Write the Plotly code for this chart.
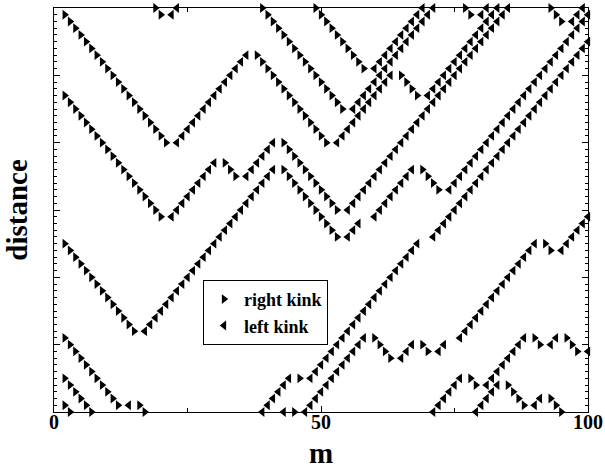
import plotly.graph_objects as go

# Each track is a list of segments: (kink type, first step m, distance at each successive step)
A = [
    ("R", 2, [59, 58, 57, 56, 55, 54, 53, 52, 51, 50, 49, 48, 47, 46, 45, 44, 43, 42, 41, 40]),
    ("L", 23, [40, 41, 42, 43, 44, 45, 46, 47, 48, 49, 50, 51, 52, 53]),
    ("R", 38, [53, 52, 51, 50, 49, 48, 47, 46, 45, 44, 43, 42, 41, 40]),
    ("L", 53, [40, 41, 42, 43, 44, 45, 46, 47, 48, 49, 50]),
    ("R", 65, [50, 49, 48, 47]),
    ("L", 70, [47, 48, 49, 50, 51, 52, 53, 54, 55, 56, 57, 58, 59, 60]),
]
D1 = [
    ("R", 39, [60, 59, 58, 57, 56, 55, 54, 53, 52, 51, 50, 49, 48, 47, 46, 45]),
    ("L", 56, [45, 46, 47, 48, 49, 50, 51, 52, 53, 54, 55, 56, 57, 58, 59, 60]),
]
D2 = [
    ("R", 49, [60, 59, 58, 57, 56, 55, 54, 53, 52, 51]),
    ("L", 60, [51, 52, 53, 54, 55, 56, 57, 58, 59, 60]),
]
T1 = [("R", 19, [60, 59]), ("L", 22, [59, 60])]
T2 = [("R", 77, [60, 59]), ("L", 80, [59, 60])]
T3 = [("R", 93, [60, 59, 58]), ("L", 97, [58, 59, 60])]
P2 = [
    ("R", 2, [47, 46, 45, 44, 43, 42, 41, 40, 39, 38, 37, 36, 35, 34, 33, 32, 31, 30, 29]),
    ("L", 22, [29, 30, 31, 32, 33, 34, 35, 36, 37]),
    ("R", 32, [37, 36, 35]),
    ("L", 36, [35, 36, 37, 38, 39, 40]),
    ("R", 43, [40, 39, 38, 37, 36, 35, 34, 33, 32, 31, 30]),
    ("L", 55, [30, 31, 32, 33, 34, 35, 36, 37, 38, 39, 40, 41, 42, 43, 44, 45, 46, 47, 48, 49,
               50, 51, 52, 53, 54, 55, 56, 57, 58, 59, 60]),
]
P3 = [
    ("R", 2, [25, 24, 23, 22, 21, 20, 19, 18, 17, 16, 15, 14, 13, 12]),
    ("L", 17, [12, 13, 14, 15, 16, 17, 18, 19, 20, 21, 22, 23, 24, 25, 26, 27, 28, 29, 30, 31,
               32, 33, 34, 35, 36]),
    ("R", 43, [36, 35, 34, 33, 32, 31, 30, 29, 28, 27, 26]),
    ("L", 55, [26, 27, 28]),
    ("L", 60, [29, 30, 31, 32, 33, 34, 35, 36]),
    ("R", 69, [36, 35, 34, 33]),
    ("L", 74, [33, 34, 35, 36, 37, 38, 39, 40, 41, 42, 43, 44, 45, 46, 47, 48, 49, 50, 51, 52,
               53, 54, 55, 56, 57, 58, 59]),
]
B1 = [("R", 2, [11, 10, 9, 8, 7, 6, 5, 4, 3, 2, 1]), ("L", 14, [1]), ("R", 16, [1, 0])]
B2 = [("R", 2, [5, 4, 3, 2, 1, 0])]
B3 = [("R", 2, [1, 0])]
E1 = [
    ("L", 39, [0, 1, 2, 3, 4, 5]),
    ("R", 46, [5]),
    ("L", 48, [5, 6, 7, 8, 9, 10, 11, 12, 13, 14, 15, 16, 17, 18, 19, 20, 21, 22, 23, 24, 25]),
    ("L", 71, [26, 27, 28, 29, 30, 31, 32, 33, 34, 35, 36, 37, 38, 39, 40, 41, 42, 43, 44, 45,
               46, 47, 48, 49, 50, 51, 52, 53, 54, 55]),
]
E2 = [
    ("L", 43, [0]),
    ("R", 45, [0]),
    ("L", 47, [0, 1, 2, 3, 4, 5, 6, 7, 8, 9, 10, 11]),
    ("R", 60, [11, 10, 9, 8]),
    ("L", 65, [8, 9, 10]),
    ("R", 69, [10, 9]),
    ("L", 72, [9, 10]),
    ("L", 76, [11, 12, 13, 14, 15, 16, 17, 18, 19, 20, 21, 22, 23, 24, 25]),
    ("R", 92, [25, 24]),
    ("L", 95, [24, 25, 26, 27, 28, 29]),
]
E3 = [
    ("L", 71, [0, 1, 2, 3, 4, 5]),
    ("R", 78, [5, 4]),
    ("L", 81, [4, 5, 6, 7, 8, 9, 10, 11]),
    ("R", 90, [11, 10]),
    ("L", 93, [10, 11]),
    ("R", 96, [11, 10, 9]),
    ("L", 100, [9]),
]
E4 = [
    ("L", 79, [0, 1, 2, 3, 4]),
    ("R", 85, [4, 3, 2, 1]),
    ("L", 90, [1, 2]),
    ("R", 93, [2, 1, 0]),
]

tracks = [A, D1, D2, T1, T2, T3, P2, P3, B1, B2, B3, E1, E2, E3, E4]

rx, ry, lx, ly = [], [], [], []
for tr in tracks:
    for kind, m0, ds in tr:
        for i, d in enumerate(ds):
            if kind == "R":
                rx.append(m0 + i)
                ry.append(d)
            else:
                lx.append(m0 + i)
                ly.append(d)

SERIF = "Liberation Serif"
fig = go.Figure()
fig.add_trace(go.Scatter(x=rx, y=ry, mode="markers", name="right kink", cliponaxis=False,
                         marker=dict(symbol="triangle-right", size=8.5, color="black")))
fig.add_trace(go.Scatter(x=lx, y=ly, mode="markers", name="left kink", cliponaxis=False,
                         marker=dict(symbol="triangle-left", size=8.5, color="black")))

fig.update_layout(
    width=605, height=469,
    margin=dict(l=54, r=17, t=8, b=57),
    paper_bgcolor="white", plot_bgcolor="white",
    showlegend=True,
    legend=dict(x=0.279, y=0.327, xanchor="left", yanchor="top",
                bordercolor="black", borderwidth=1, bgcolor="white",
                font=dict(family=SERIF, size=18, color="black", weight="bold"),
                itemwidth=30, tracegroupgap=0),
)
fig.update_xaxes(
    range=[0, 100], tickvals=[0, 50, 100], ticktext=["0", "50", "100"],
    ticks="inside", ticklen=6, tickwidth=1, tickcolor="black",
    minor=dict(tickvals=[25, 75], ticks="inside", ticklen=4, tickcolor="black"),
    showline=True, linecolor="black", linewidth=1, mirror="ticks",
    showgrid=False, zeroline=False, automargin=False,
    ticklabelstandoff=-8,
    tickfont=dict(family=SERIF, size=20, color="black", weight="bold"),
    title=dict(text="m", standoff=14,
               font=dict(family=SERIF, size=29, color="black", weight="bold")),
)
fig.update_yaxes(
    range=[0, 60], tickvals=[0, 10, 20, 30, 40, 50, 60], showticklabels=False,
    ticks="inside", ticklen=6, tickwidth=1, tickcolor="black",
    minor=dict(dtick=1, ticks="inside", ticklen=3, tickcolor="black"),
    showline=True, linecolor="black", linewidth=1, mirror="ticks",
    showgrid=False, zeroline=False, automargin=False,
    title=dict(text="distance", standoff=16,
               font=dict(family=SERIF, size=29, color="black", weight="bold")),
)

fig.write_html("out.html")
